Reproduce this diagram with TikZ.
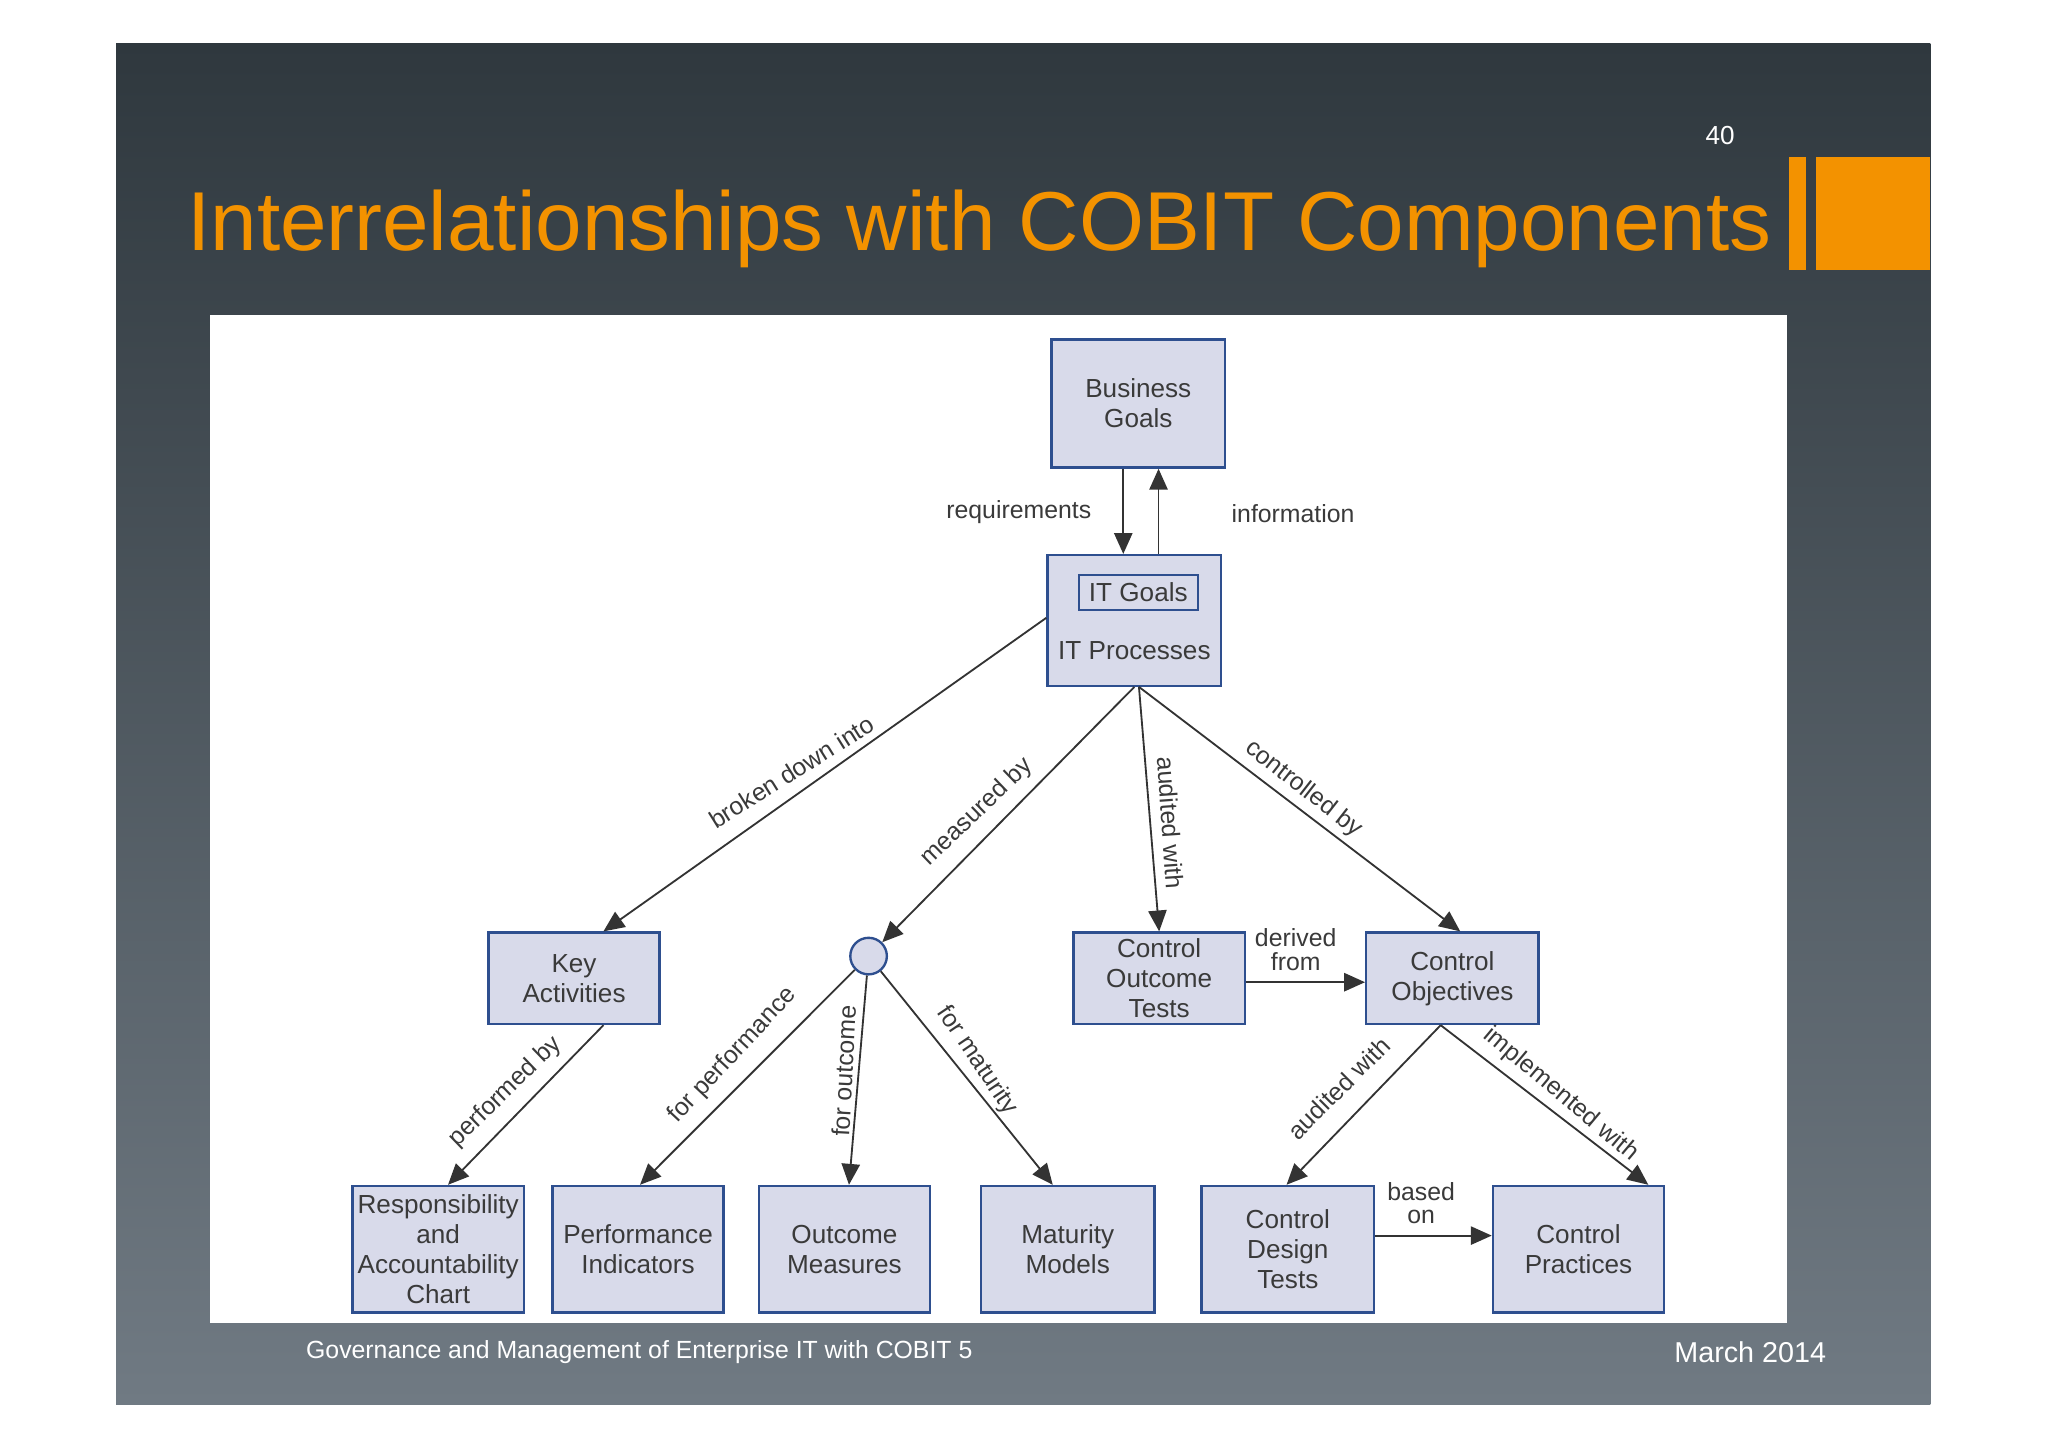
\documentclass[tikz,border=0pt]{standalone}
\usepackage{fontspec}
\setmainfont{Liberation Sans}
\usetikzlibrary{arrows.meta}
\definecolor{boxfill}{HTML}{D8DAEA}
\definecolor{boxline}{HTML}{2E4F8F}
\definecolor{orng}{HTML}{F39200}
\definecolor{lbl}{HTML}{3A3A3A}
\begin{document}
\begin{tikzpicture}[x=0.5pt,y=-0.5pt,
  box/.style={draw=boxline,line width=0.9pt,fill=boxfill,align=center,font=\fontsize{10}{11.5}\selectfont,text=lbl,inner sep=0pt},
  arr/.style={draw=black!80,line width=0.7pt,-{Triangle[length=8pt,width=7pt]}},
  lab/.style={font=\fontsize{9.5}{11}\selectfont,text=lbl,align=center,inner sep=0pt}]
\useasboundingbox (0,0) rectangle (1568,1107);
\fill[white] (0,0) rectangle (1568,1107);
\shade[top color={rgb,255:red,47;green,56;blue,62},bottom color={rgb,255:red,112;green,122;blue,131}] (89,33) rectangle (1478,1075);
\fill[white] (161,241) rectangle (1368,1013);
\fill[orng] (1390,120) rectangle (1478,207);
\fill[orng] (1370,120) rectangle (1383,207);
\node[anchor=west,text=orng,font=\fontsize{32}{36}\selectfont,inner sep=0pt] (title) at (143,175) {Interrelationships with COBIT Components};
\node[text=white,font=\fontsize{10}{12}\selectfont] (num) at (1317,104) {40};
\node[anchor=west,text=white,font=\fontsize{9.5}{11}\selectfont,inner sep=0pt] (foot) at (234,1035) {Governance and Management of Enterprise IT with COBIT 5};
\node[text=white,font=\fontsize{11}{13}\selectfont] (date) at (1340,1035) {March 2014};
% boxes
\node[box,minimum width=66.5pt,minimum height=49pt] (bg) at (871.5,309) {Business\\Goals};
\node[box,minimum width=66.5pt,minimum height=50pt] (it) at (868.5,475) {};
\node[box,minimum width=45.5pt,minimum height=13.5pt] (itg) at (871.5,453.5) {IT Goals};
\node[box,draw=none,fill=none] (itp) at (868.5,498) {IT Processes};
\node[box,minimum width=65.5pt,minimum height=35pt] (ka) at (439.5,749) {Key\\Activities};
\node[box,circle,minimum size=14pt] (c) at (665,732) {};
\node[box,minimum width=65.5pt,minimum height=35pt] (cot) at (887.5,749) {Control\\Outcome\\Tests};
\node[box,minimum width=66pt,minimum height=35pt] (co) at (1112,749) {Control\\Objectives};
\node[box,minimum width=65.5pt,minimum height=48.5pt] (rac) at (335.5,956.5) {Responsibility\\and\\Accountability\\Chart};
\node[box,minimum width=65.5pt,minimum height=48.5pt] (pi) at (488.5,956.5) {Performance\\Indicators};
\node[box,minimum width=65.5pt,minimum height=48.5pt] (om) at (646.5,956.5) {Outcome\\Measures};
\node[box,minimum width=66.5pt,minimum height=48.5pt] (mm) at (817.5,956.5) {Maturity\\Models};
\node[box,minimum width=66pt,minimum height=48.5pt] (cdt) at (986,956.5) {Control\\Design\\Tests};
\node[box,minimum width=65.5pt,minimum height=48.5pt] (cp) at (1208.5,956.5) {Control\\Practices};
% arrows
\draw[arr] (bg.south -| 860,0) -- (it.north -| 860,0);
\draw[arr] (it.north -| 887,0) -- (bg.south -| 887,0);
\node[lab] (l1) at (780,392) {requirements};
\node[lab] (l2) at (990,393) {information};
\draw[arr] (it.west |- 0,473) -- (ka.north -| 462,0);
\node[lab,rotate=32] (l3) at (606,591) {broken down into};
\draw[arr] (it.south) -- (c);
\node[lab,rotate=44] (l4) at (748,622) {measured by};
\draw[arr] (it.south -| 872,0) -- (cot.north);
\node[lab,rotate=-86] (l5) at (896,630) {audited with};
\draw[arr] (it.south -| 872,0) -- (co.north -| 1118,0);
\node[lab,rotate=-38] (l6) at (998,604) {controlled by};
\draw[arr] (ka.south -| 462,0) -- (rac.north -| 343,0);
\node[lab,rotate=44] (l7) at (387,836) {performed by};
\draw[arr] (c) -- (pi.north -| 490,0);
\node[lab,rotate=47] (l8) at (561,808) {for performance};
\draw[arr] (c) -- (om.north -| 650,0);
\node[lab,rotate=87] (l9) at (646,820) {for outcome};
\draw[arr] (c) -- (mm.north -| 806,0);
\node[lab,rotate=-56] (l10) at (748,812) {for maturity};
\draw[arr] (cot.east |- 0,752) -- (co.west |- 0,752);
\node[lab] (l11) at (992,727) {derived\\[-2pt]from};
\draw[arr] (co.south -| 1103,0) -- (cdt.north -| 985,0);
\node[lab,rotate=45] (l12) at (1025,833) {audited with};
\draw[arr] (co.south -| 1103,0) -- (cp.north -| 1262,0);
\node[lab,rotate=-40] (l13) at (1195,838) {implemented with};
\draw[arr] (cdt.east |- 0,946) -- (cp.west |- 0,946);
\node[lab] (l14) at (1088,921) {based\\[-2pt]on};
\end{tikzpicture}
\end{document}
